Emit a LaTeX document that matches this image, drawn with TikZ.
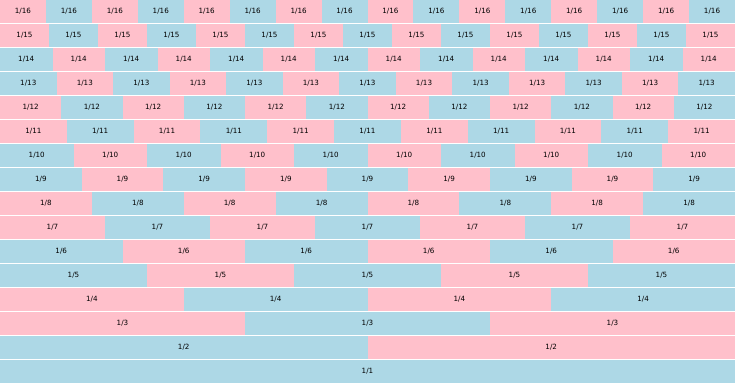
\documentclass[tikz,border=0pt]{standalone}
\usepackage{fontspec}
\setmainfont{DejaVu Sans}
\definecolor{wallpink}{RGB}{255,192,203}
\definecolor{wallblue}{RGB}{173,216,230}
\begin{document}
\begin{tikzpicture}[x=1bp, y=-1bp, font=\fontsize{7.2}{8}\selectfont,
	brick/.style={draw=none},
	lbl/.style={inner sep=0pt, text=black}]
	\useasboundingbox (0,0) rectangle (735,383);
	\fill[white] (0,0) rectangle (735,383);
	\foreach \n in {16,...,1} {
		\pgfmathtruncatemacro{\row}{16-\n}
		\pgfmathtruncatemacro{\first}{136-\n*(\n+1)/2}
		\pgfmathsetmacro{\w}{735/\n}
		\foreach \k in {1,...,\n} {
			\pgfmathtruncatemacro{\idx}{\first+\k-1}
			\ifodd\idx \def\shade{wallblue}\else\def\shade{wallpink}\fi
			\fill[brick, fill=\shade] ({(\k-1)*\w},{\row*24}) rectangle ({\k*\w},{\row*24+23});
			\node[lbl] (f\n-\k) at ({(\k-0.5)*\w},{\row*24+11.5}) {1/\n};
		}
	}
\end{tikzpicture}
\end{document}
